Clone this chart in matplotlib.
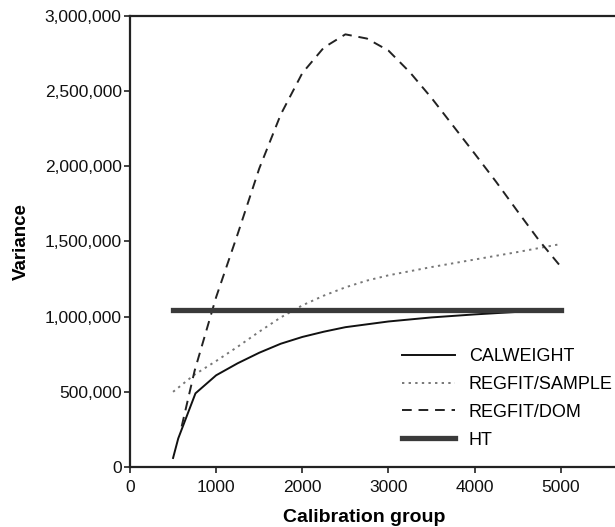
import matplotlib
matplotlib.use("Agg")
import matplotlib.pyplot as plt
from matplotlib.ticker import FuncFormatter

plt.rcParams['font.family'] = ['Liberation Sans', 'DejaVu Sans']

# Data
cal_x = [500, 560, 760, 1000, 1250, 1500, 1750, 2000, 2250, 2500, 3000, 3500, 4000, 4500, 5000]
cal_y = [60000, 190000, 490000, 610000, 690000, 760000, 820000, 865000, 900000, 930000,
         968000, 995000, 1015000, 1032000, 1045000]

samp_x = [500, 750, 1000, 1250, 1500, 1750, 2000, 2250, 2500, 2750, 3000, 3500, 4000, 4500, 5000]
samp_y = [500000, 615000, 705000, 800000, 900000, 995000, 1075000, 1140000, 1195000, 1240000,
          1275000, 1330000, 1380000, 1430000, 1483000]

dom_x = [600, 750, 1000, 1250, 1500, 1750, 2000, 2250, 2500, 2750, 3000, 3250, 3500, 3750,
         4000, 4250, 4500, 4750, 5000]
dom_y = [270000, 640000, 1130000, 1550000, 1985000, 2345000, 2620000, 2790000, 2878000, 2850000,
         2770000, 2625000, 2455000, 2270000, 2085000, 1897000, 1700000, 1506000, 1333000]

ht_x = [500, 5000]
ht_y = [1045000, 1045000]

labels = ["CALWEIGHT", "REGFIT/SAMPLE", "REGFIT/DOM", "HT"]
xticks = [0, 1000, 2000, 3000, 4000, 5000]
yticks = [0, 500000, 1000000, 1500000, 2000000, 2500000, 3000000]

fig = plt.figure(figsize=(6.15, 5.27), dpi=100)
ax = fig.add_axes([130/615, 1-467/527, 1-130/615, (467-16)/527])

ax.plot(cal_x, cal_y, color='#111111', lw=1.4, ls='-', label=labels[0])
ax.plot(samp_x, samp_y, color='#777777', lw=1.4, ls=(0, (1.2, 2.2)), label=labels[1])
ax.plot(dom_x, dom_y, color='#222222', lw=1.4, ls=(0, (5, 3.5)), label=labels[2])
ax.plot(ht_x, ht_y, color='#3a3a3a', lw=3.8, ls='-', label=labels[3])

ax.set_xlim(0, 5630)
ax.set_ylim(0, 3000000)
ax.set_xticks(xticks)
ax.set_yticks(yticks)
ax.yaxis.set_major_formatter(FuncFormatter(lambda v, p: f"{int(v):,}"))
ax.tick_params(axis='both', direction='out', length=4, width=1.2, labelsize=12.5, pad=2,
               colors='#222222', labelcolor='#111111')
ax.tick_params(axis='x', pad=5)

for s in ['left', 'bottom', 'top']:
    ax.spines[s].set_linewidth(1.6)
    ax.spines[s].set_color('#222222')
ax.spines['right'].set_visible(False)

ax.set_ylabel("Variance", fontsize=13.5, fontweight='bold')
ax.yaxis.set_label_coords(-0.207, 0.5)
ax.set_xlabel("Calibration group", fontsize=14, fontweight='bold')
ax.xaxis.set_label_coords(0.483, -0.093)

leg = ax.legend(loc='lower right', bbox_to_anchor=(1.01, 0.025), frameon=False, fontsize=13,
                handlelength=2.9, handletextpad=0.78, labelspacing=0.6, borderaxespad=0.0)

fig.savefig("out.png", dpi=100)
